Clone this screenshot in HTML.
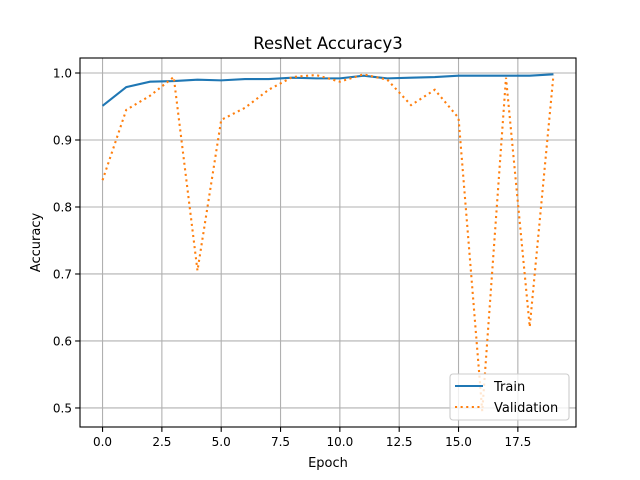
<!DOCTYPE html>
<html><head><meta charset="utf-8"><style>body{margin:0;background:#fff}svg{display:block;font-family:"DejaVu Sans","Liberation Sans",sans-serif}</style></head>
<body>
<svg id="chart" width="640" height="480" xmlns="http://www.w3.org/2000/svg">
<rect width="640" height="480" fill="#fff"/>
<g id="grid"></g><g id="series"></g><g id="axes"></g>
</svg>
<script>
const epochs=[0,1,2,3,4,5,6,7,8,9,10,11,12,13,14,15,16,17,18,19];
const trainAcc=[0.951,0.979,0.987,0.988,0.990,0.989,0.991,0.991,0.993,0.992,0.992,0.996,0.992,0.993,0.994,0.996,0.996,0.996,0.996,0.998];
const valAcc=[0.840,0.945,0.966,0.994,0.705,0.930,0.948,0.975,0.994,0.997,0.987,0.998,0.990,0.952,0.975,0.933,0.495,0.993,0.621,0.997];
const xTicks=[0,2.5,5,7.5,10,12.5,15,17.5];
const xTickLabels=["0.0","2.5","5.0","7.5","10.0","12.5","15.0","17.5"];
const yTicks=[0.5,0.6,0.7,0.8,0.9,1.0];
const yTickLabels=["0.5","0.6","0.7","0.8","0.9","1.0"];
const L=80,R=576,T=58,B=427;
const xMin=-0.95,xMax=19.95,yMin=0.4716,yMax=1.0224;
const xs=v=>L+(v-xMin)/(xMax-xMin)*(R-L);
const ys=v=>B-(v-yMin)/(yMax-yMin)*(B-T);
const NS="http://www.w3.org/2000/svg";
function mk(tag,attrs,parent,text){const e=document.createElementNS(NS,tag);for(const k in attrs)e.setAttribute(k,attrs[k]);if(text!==undefined)e.textContent=text;document.getElementById(parent)?document.getElementById(parent).appendChild(e):parent.appendChild(e);return e;}
xTicks.forEach((t,i)=>{const x=xs(t);
 let g=mk('line',{x1:x,x2:x,y1:T,y2:B,stroke:'#b0b0b0','stroke-width':1.1},'grid');
 let k=mk('line',{x1:x,x2:x,y1:B,y2:B+4.9,stroke:'#000','stroke-width':1.1},'axes');
 let l=mk('text',{x:x,y:B+19,'font-size':12,'text-anchor':'middle'},'axes',xTickLabels[i]);});
yTicks.forEach((t,i)=>{const y=ys(t);
 let g=mk('line',{x1:L,x2:R,y1:y,y2:y,stroke:'#b0b0b0','stroke-width':1.1},'grid');
 let k=mk('line',{x1:L-4.9,x2:L,y1:y,y2:y,stroke:'#000','stroke-width':1.1},'axes');
 let l=mk('text',{x:L-8,y:y+4.5,'font-size':12,'text-anchor':'end'},'axes',yTickLabels[i]);});
const pts=a=>a.map((v,i)=>xs(epochs[i])+','+ys(v)).join(' ');
let p1=mk('polyline',{points:pts(trainAcc),fill:'none',stroke:'#1f77b4','stroke-width':2.1},'series');
let p2=mk('polyline',{points:pts(valAcc),fill:'none',stroke:'#ff7f0e','stroke-width':2.1,'stroke-dasharray':'2.1,3.5'},'series');
let fr=mk('rect',{x:L,y:T,width:R-L,height:B-T,fill:'none',stroke:'#000','stroke-width':1.1},'axes');
let ti=mk('text',{x:(L+R)/2,y:49,'font-size':16.5,'text-anchor':'middle'},'axes','ResNet Accuracy3');
let xt=mk('text',{x:(L+R)/2,y:467,'font-size':13,'text-anchor':'middle'},'axes','Epoch');
let yt=mk('text',{x:40,y:(T+B)/2,'font-size':13,'text-anchor':'middle',transform:'rotate(-90 40 '+((T+B)/2)+')'},'axes','Accuracy');
const lg=mk('g',{},'axes');
mk('rect',{x:450,y:374,width:119,height:46,rx:3,fill:'#fff','fill-opacity':0.8,stroke:'#ccc','stroke-width':1.1},lg);
let e1=mk('g',{},lg);
mk('line',{x1:455,x2:483,y1:386,y2:386,stroke:'#1f77b4','stroke-width':2.1},e1);
mk('text',{x:494,y:391,'font-size':13},e1,'Train');
let e2=mk('g',{},lg);
mk('line',{x1:455,x2:483,y1:407,y2:407,stroke:'#ff7f0e','stroke-width':2.1,'stroke-dasharray':'2.1,3.5'},e2);
mk('text',{x:494,y:412,'font-size':13},e2,'Validation');
</script>
</body></html>
